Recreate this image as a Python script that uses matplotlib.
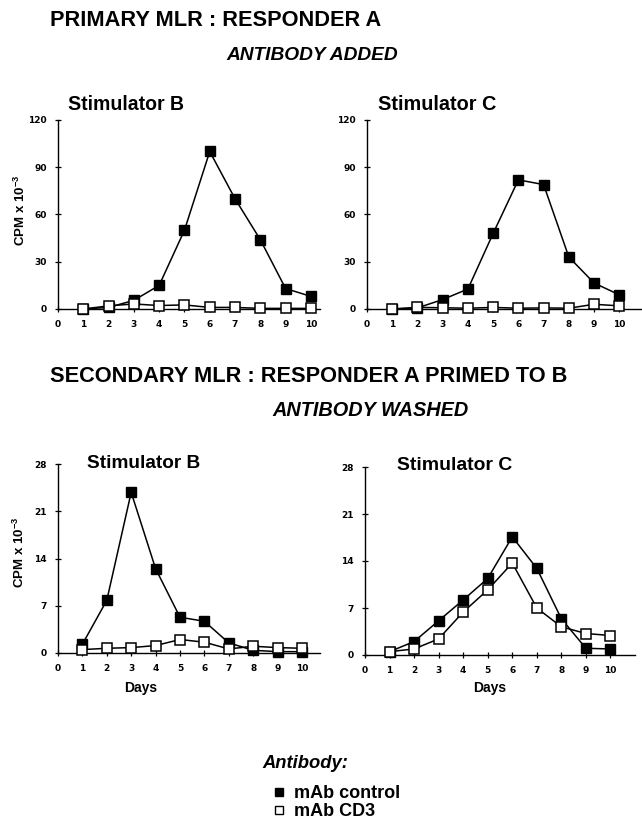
import matplotlib
matplotlib.use("Agg")
import matplotlib.pyplot as plt
from matplotlib.lines import Line2D

plt.rcParams['font.family'] = ['Liberation Sans', 'DejaVu Sans']
plt.rcParams['font.weight'] = 'bold'
plt.rcParams['mathtext.fontset'] = 'custom'
plt.rcParams['mathtext.rm'] = 'Liberation Sans:bold'
plt.rcParams['mathtext.bf'] = 'Liberation Sans:bold'
plt.rcParams['mathtext.default'] = 'bf'

# ---------------- data ----------------
days = [1, 2, 3, 4, 5, 6, 7, 8, 9, 10]
xticks = [0, 1, 2, 3, 4, 5, 6, 7, 8, 9, 10]

prim_B_ctrl = [0, 1, 5.5, 15, 50, 100, 70, 44, 13, 8]
prim_B_cd3 = [0, 2, 3.2, 2.2, 2.6, 1, 1, 0.4, 0.4, 0.4]
prim_C_ctrl = [0, 0.7, 6, 12.7, 48, 82, 79, 33, 16.5, 9]
prim_C_cd3 = [0, 1, 0.8, 0.5, 1, 0.5, 0.7, 0.5, 3, 2]

sec_B_ctrl = [1.3, 7.8, 23.8, 12.5, 5.3, 4.7, 1.5, 0.4, 0.2, 0.2]
sec_B_cd3 = [0.5, 0.7, 0.8, 1.1, 2.0, 1.6, 0.6, 1.0, 0.8, 0.7]
sec_C_ctrl = [0.5, 2.0, 5.1, 8.2, 11.4, 17.6, 12.9, 5.4, 1.0, 0.9]
sec_C_cd3 = [0.5, 0.9, 2.4, 6.4, 9.7, 13.7, 7.0, 4.2, 3.2, 2.9]

prim_yticks = [0, 30, 60, 90, 120]
sec_yticks = [0, 7, 14, 21, 28]

W, H = 642, 819
fig = plt.figure(figsize=(W / 100, H / 100), dpi=100)
renderer = fig.canvas.get_renderer()

HEAVY = ['DejaVu Sans']


def add_axes(x0, x1, ytop, ybot):
    return fig.add_axes([x0 / W, 1 - ybot / H, (x1 - x0) / W, (ybot - ytop) / H])


def style(ax, xmax, yticks):
    ax.set_xlim(0, xmax)
    ax.set_ylim(yticks[0], yticks[-1])
    ax.set_xticks(xticks)
    ax.set_yticks(yticks)
    ax.spines['top'].set_visible(False)
    ax.spines['right'].set_visible(False)
    for s in ('left', 'bottom'):
        ax.spines[s].set_linewidth(1.0)
    ax.tick_params(direction='inout', length=4, width=0.9, pad=6)
    for lab in ax.get_xticklabels() + ax.get_yticklabels():
        lab.set_fontweight('bold')
        lab.set_family(HEAVY)
        lab.set_fontsize(6.5)
    ax.patch.set_alpha(0)


def plot_pair(ax, ctrl, cd3):
    ax.plot(days, ctrl, color='black', lw=1.1, marker='s', ms=7.5,
            mfc='black', mec='black', clip_on=False, zorder=3)
    ax.plot(days, cd3, color='black', lw=1.1, marker='s', ms=7.5,
            mfc='white', mec='black', mew=1.1, clip_on=False, zorder=4)


# top row
ax1 = add_axes(58, 320, 120, 309)
plot_pair(ax1, prim_B_ctrl, prim_B_cd3)
style(ax1, 10.36, prim_yticks)
ax2 = add_axes(367, 642, 120, 309)
plot_pair(ax2, prim_C_ctrl, prim_C_cd3)
style(ax2, 10.9, prim_yticks)

# bottom row
ax3 = add_axes(58, 320, 464, 653)
plot_pair(ax3, sec_B_ctrl, sec_B_cd3)
style(ax3, 10.74, sec_yticks)
ax4 = add_axes(365, 635, 467, 655)
plot_pair(ax4, sec_C_ctrl, sec_C_cd3)
style(ax4, 11.0, sec_yticks)


def ftext(x, y, s, **kw):
    return fig.text(x / W, 1 - y / H, s, **kw)


def fit(x0, width, y, s, **kw):
    t = ftext(x0, y, s, fontsize=10, va='center', ha='left', **kw)
    bb = t.get_window_extent(renderer)
    t.set_fontsize(10 * width / bb.width)
    return t


# titles
fit(50, 330, 20, 'PRIMARY MLR : RESPONDER A', fontweight='bold')
fit(226, 172, 55, 'ANTIBODY ADDED', fontweight='bold', style='italic')
fit(68, 116, 104, 'Stimulator B', fontweight='bold')
fit(378, 118, 104, 'Stimulator C', fontweight='bold')

fit(50, 515, 377, 'SECONDARY MLR : RESPONDER A PRIMED TO B', fontweight='bold')
fit(272, 196, 411, 'ANTIBODY WASHED', fontweight='bold', style='italic')
fit(87, 113, 464, 'Stimulator B', fontweight='bold')
fit(397, 115, 465, 'Stimulator C', fontweight='bold')

# y labels
ftext(20, 210, r'CPM x 10$^{-3}$', fontsize=9.5, fontweight='bold', rotation=90, va='center', ha='center')
ftext(19, 552, r'CPM x 10$^{-3}$', fontsize=9.5, fontweight='bold', rotation=90, va='center', ha='center')

# x labels
ftext(141, 688, 'Days', fontsize=10, fontweight='bold', va='center', ha='center')
ftext(490, 688, 'Days', fontsize=10, fontweight='bold', va='center', ha='center')

# legend
fit(262, 86, 764, 'Antibody:', fontweight='bold', style='italic')
handles = [
    Line2D([], [], ls='none', marker='s', ms=6, mfc='black', mec='black'),
    Line2D([], [], ls='none', marker='s', ms=5.5, mfc='white', mec='black', mew=1.0),
]
leg = fig.legend(handles, ['mAb control', 'mAb CD3'], loc='upper left',
                 bbox_to_anchor=(265 / W, 1 - 776 / H), frameon=False,
                 prop={'size': 13, 'weight': 'bold'}, handlelength=0.6,
                 handletextpad=0.5, labelspacing=0.05, borderpad=0)

fig.savefig('out.png', dpi=100)
